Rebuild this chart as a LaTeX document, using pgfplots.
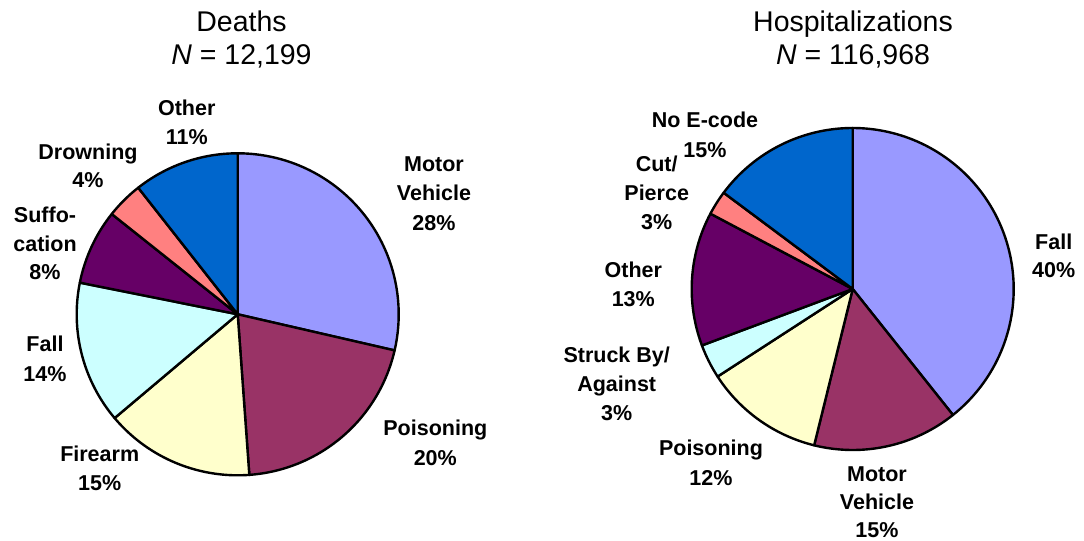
\documentclass[border=0pt]{standalone}
\usepackage{fontspec}
\setmainfont{Liberation Sans}
\usepackage{pgfplots}
\pgfplotsset{compat=1.18}

\definecolor{cLav}{HTML}{9999FF}
\definecolor{cPlum}{HTML}{993366}
\definecolor{cIvory}{HTML}{FFFFCC}
\definecolor{cCyan}{HTML}{CCFFFF}
\definecolor{cPurple}{HTML}{660066}
\definecolor{cCoral}{HTML}{FF8080}
\definecolor{cBlue}{HTML}{0066CC}

% running start angle (clockwise from 12 o'clock)
\newcommand\curang{90}
% \slice{share in percent}{colour}
\newcommand{\slice}[2]{%
  \pgfmathsetmacro\sa{\curang}%
  \pgfmathsetmacro\eb{\curang-3.6*#1}%
  \edef\temp{\noexpand\addplot[fill=#2, draw=black, line width=2.4bp, line join=round,
     domain=\sa:\eb, samples=90] ({cos(x)},{sin(x)}) -- (axis cs:0,0) -- cycle;}%
  \temp
  \global\let\curang\eb
}
\newcommand{\lb}[3]{\node[anchor=base, inner sep=0pt, font=\fontsize{21.5bp}{26bp}\selectfont\bfseries]
   at ({#1*1bp},{(541-#2)*1bp}) {#3};}

\begin{document}
\begin{tikzpicture}
\useasboundingbox (0,0) rectangle (1084bp,541bp);

% ---------- Deaths ----------
\begin{axis}[hide axis, clip=false, x=161bp, y=161bp,
  xmin=-1, xmax=1, ymin=-1, ymax=1, anchor=origin, at={(237.7bp,226.7bp)}]
\gdef\curang{90}
\slice{28.6}{cLav}    % Motor Vehicle
\slice{20.25}{cPlum}  % Poisoning
\slice{15.0}{cIvory}  % Firearm
\slice{14.3}{cCyan}   % Fall
\slice{7.55}{cPurple} % Suffocation
\slice{3.7}{cCoral}   % Drowning
\slice{10.6}{cBlue}   % Other
\end{axis}

% ---------- Hospitalizations ----------
\begin{axis}[hide axis, clip=false, x=161bp, y=161bp,
  xmin=-1, xmax=1, ymin=-1, ymax=1, anchor=origin, at={(852.7bp,252bp)}]
\gdef\curang{90}
\slice{39.3}{cLav}    % Fall
\slice{14.55}{cPlum}  % Motor Vehicle
\slice{12.0}{cIvory}  % Poisoning
\slice{3.45}{cCyan}   % Struck By/Against
\slice{13.45}{cPurple}% Other
\slice{2.45}{cCoral}  % Cut/Pierce
\slice{14.8}{cBlue}   % No E-code
\end{axis}

% titles
\node[anchor=base, inner sep=0pt, font=\fontsize{28.5bp}{32bp}\selectfont] at (241.5bp,509.3bp) {Deaths};
\node[anchor=base, inner sep=0pt, font=\fontsize{28.5bp}{32bp}\selectfont] at (241.5bp,476bp) {\textit{N} = 12,199};
\node[anchor=base, inner sep=0pt, font=\fontsize{28.5bp}{32bp}\selectfont] at (853bp,509.3bp) {Hospitalizations};
\node[anchor=base, inner sep=0pt, font=\fontsize{28.5bp}{32bp}\selectfont] at (853bp,476bp) {\textit{N} = 116,968};

% labels, deaths
\lb{186.7}{116}{Other}\lb{186.7}{144.3}{11\%}
\lb{88}{159}{Drowning}\lb{88}{187.7}{4\%}
\lb{45}{222.7}{Suffo-}\lb{45}{251}{cation}\lb{45}{279.3}{8\%}
\lb{434}{171}{Motor}\lb{434}{200.7}{Vehicle}\lb{434}{230.7}{28\%}
\lb{45}{351.7}{Fall}\lb{45}{381.7}{14\%}
\lb{99.7}{461.7}{Firearm}\lb{99.7}{490}{15\%}
\lb{435.3}{435.7}{Poisoning}\lb{435.3}{465}{20\%}
% labels, hospitalizations
\lb{705}{127.3}{No E-code}\lb{705}{157.3}{15\%}
\lb{656.7}{171}{Cut/}\lb{656.7}{200}{Pierce}\lb{656.7}{229.3}{3\%}
\lb{633.3}{277.3}{Other}\lb{633.3}{306}{13\%}
\lb{616.7}{362.7}{Struck By/}\lb{616.7}{391.7}{Against}\lb{616.7}{420.7}{3\%}
\lb{711}{455.7}{Poisoning}\lb{711}{485}{12\%}
\lb{877}{481.2}{Motor}\lb{877}{509.8}{Vehicle}\lb{877}{537.3}{15\%}
\lb{1053.7}{249}{Fall}\lb{1053.7}{277}{40\%}
\end{tikzpicture}
\end{document}
